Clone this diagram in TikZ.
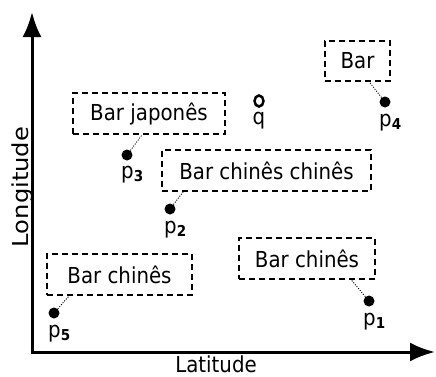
\documentclass[tikz,border=0pt]{standalone}
\usepackage{fontspec}
\setmainfont{DejaVu Sans}
\newfontfamily\hfont{DejaVu Sans}[FakeStretch=0.9]
\newfontfamily\vfont{DejaVu Sans}[FakeStretch=1.1]
\usetikzlibrary{arrows.meta,shapes.geometric}
\newcommand{\psub}[1]{p\raisebox{-3pt}{\fontsize{15}{15}\selectfont\bfseries #1}}
\begin{document}
\begin{tikzpicture}[x=1pt,y=-1pt,
  every node/.style={font=\hfont\fontsize{22}{26}\selectfont, inner sep=0pt},
  barbox/.style={draw, line width=1.6pt, dash pattern=on 6pt off 4pt, minimum height=41pt},
  pt/.style={circle, fill=black, minimum size=11pt},
  qpt/.style={ellipse, draw=black, line width=2.5pt, fill=white, minimum width=9pt, minimum height=11pt},
  lbl/.style={anchor=base west},
  link/.style={line width=0.9pt, dash pattern=on 1pt off 1.5pt},
  axis/.style={line width=3pt, -{Latex[length=25pt,width=19pt]}}]
\useasboundingbox (0,0) rectangle (436,376);
% axes
\coordinate (o) at (32,352);
\coordinate (ytip) at (32,12);
\coordinate (xtip) at (435,352);
\draw[axis] ([yshift=1.5pt]o) -- (ytip);
\draw[axis] ([xshift=-1.5pt]o) -- (xtip);
\node[anchor=base] (lat) at (216,372) {Latitude};
\node[rotate=90, anchor=base, font=\vfont\fontsize{22}{26}\selectfont] (lon) at (28,187) {Longitude};
% boxes
\node[barbox, minimum width=152pt] (bj) at (149,113.5) {Bar japonês};
\node[barbox, minimum width=65pt, minimum height=40pt] (bb) at (357.5,61) {Bar};
\node[barbox, minimum width=209pt] (bcc) at (266.5,170.5) {Bar chinês chinês};
\node[barbox, minimum width=145pt] (bcl) at (119.5,274.5) {Bar chinês};
\node[barbox, minimum width=136pt] (bcr) at (307,258.5) {Bar chinês};
% points
\node[pt] (p1) at (369,301) {};
\node[pt] (p2) at (170,209) {};
\node[pt] (p3) at (127,155) {};
\node[pt] (p4) at (385,102) {};
\node[pt] (p5) at (54,313) {};
\node[qpt] (q) at (259,101) {};
% labels
\node[lbl] (l1) at (363,325) {\psub{1}};
\node[lbl] (l2) at (164,233) {\psub{2}};
\node[lbl] (l3) at (121,178) {\psub{3}};
\node[lbl] (l4) at (379,126) {\psub{4}};
\node[lbl] (l5) at (48,337) {\psub{5}};
\node[anchor=base] (lq) at (259,124) {q};
% links
\draw[link] (p3) -- ([xshift=70pt]bj.south west);
\draw[link] (p4) -- ([xshift=45pt]bb.south west);
\draw[link] (p2) -- ([xshift=22pt]bcc.south west);
\draw[link] (p5) -- ([xshift=23pt]bcl.south west);
\draw[link] (p1) -- ([xshift=113pt]bcr.south west);
\end{tikzpicture}
\end{document}
